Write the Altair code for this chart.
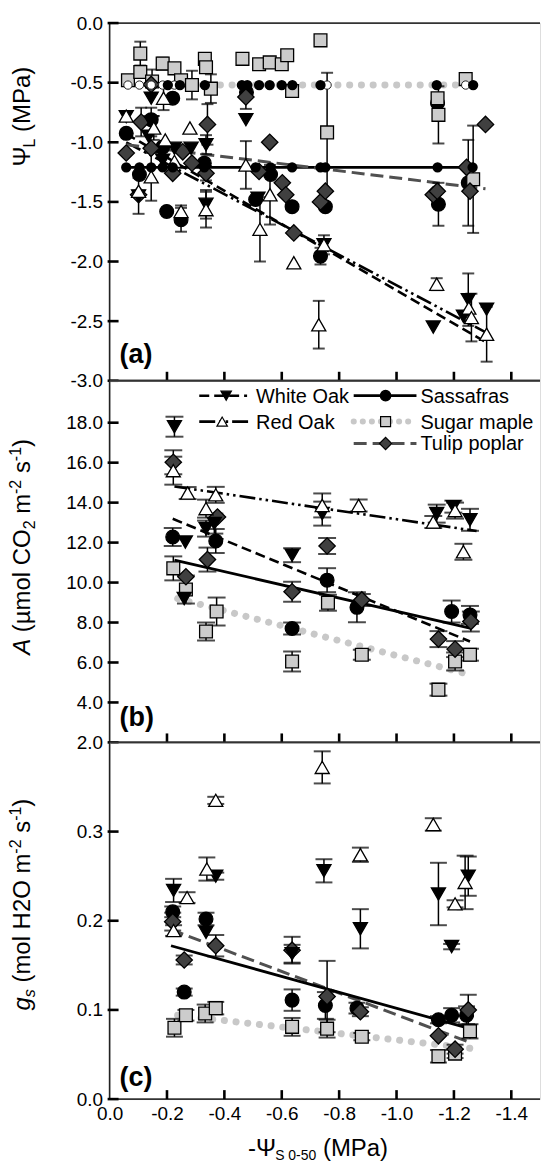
import altair as alt
import pandas as pd

FONT = "Liberation Sans"

# ------------------------------------------------------------------ shared x
X_DOMAIN = [0.0, -1.5]
X_TICKS = [0.0, -0.2, -0.4, -0.6, -0.8, -1.0, -1.2, -1.4]

# ------------------------------------------------------------------ panel (a)  Psi_L (MPa): (x, y, s.e.)
A_Y_DOMAIN = [-3.0, 0.0]
A_Y_TICKS = [0.0, -0.5, -1.0, -1.5, -2.0, -2.5, -3.0]
A_WHITE_OAK = [(-0.058, -0.785, 0), (-0.101, -1.45, 0.15), (-0.145, -0.63, 0), (-0.145, -0.83, 0.12),
               (-0.136, -0.95, 0), (-0.185, -1.15, 0), (-0.226, -1.05, 0), (-0.284, -1.05, 0),
               (-0.336, -1.02, 0.08), (-0.336, -1.52, 0.12), (-0.475, -0.81, 0), (-0.517, -1.47, 0),
               (-0.747, -1.86, 0), (-1.128, -2.55, 0), (-1.25, -2.32, 0.22), (-1.233, -2.46, 0),
               (-1.314, -2.40, 0)]
A_RED_OAK = [(-0.058, -0.78, 0), (-0.101, -1.41, 0), (-0.145, -1.29, 0.2), (-0.154, -0.88, 0.1),
             (-0.188, -0.63, 0.1), (-0.194, -0.98, 0), (-0.226, -1.16, 0), (-0.28, -0.88, 0),
             (-0.249, -1.58, 0.05), (-0.336, -1.565, 0.15), (-0.475, -1.19, 0.2), (-0.524, -1.73, 0.27),
             (-0.559, -1.44, 0.25), (-0.642, -2.01, 0), (-0.729, -2.53, 0.2), (-0.747, -1.86, 0.08),
             (-1.14, -2.19, 0.05), (-1.252, -2.39, 0), (-1.261, -2.47, 0.2), (-1.314, -2.61, 0.23)]
A_SASSAFRAS = [(-0.058, -0.925, 0), (-0.104, -1.27, 0), (-0.145, -0.81, 0), (-0.22, -0.63, 0),
               (-0.185, -1.04, 0), (-0.199, -1.58, 0), (-0.249, -1.65, 0.1), (-0.33, -1.175, 0),
               (-0.509, -1.48, 0), (-0.477, -0.58, 0), (-0.561, -1.27, 0), (-0.636, -1.54, 0),
               (-0.735, -1.955, 0.07), (-0.752, -1.54, 0), (-1.143, -0.67, 0), (-1.146, -1.52, 0.18),
               (-1.25, -1.34, 0.36)]
A_SUGAR_MAPLE = [(-0.064, -0.48, 0), (-0.107, -0.256, 0.1), (-0.107, -0.41, 0), (-0.148, -0.49, 0.1),
                 (-0.185, -0.34, 0.05), (-0.226, -0.38, 0), (-0.249, -0.48, 0), (-0.287, -0.52, 0.12),
                 (-0.332, -0.30, 0), (-0.336, -0.37, 0), (-0.353, -0.55, 0.12), (-0.463, -0.30, 0),
                 (-0.521, -0.345, 0), (-0.558, -0.33, 0), (-0.60, -0.345, 0), (-0.619, -0.27, 0),
                 (-0.636, -0.57, 0), (-0.735, -0.145, 0), (-0.758, -0.917, 0.5), (-1.143, -0.63, 0),
                 (-1.146, -0.77, 0.24), (-1.241, -0.47, 0), (-1.267, -1.31, 0.45)]
A_TULIP_POPLAR = [(-0.058, -1.09, 0), (-0.101, -1.44, 0), (-0.11, -0.83, 0.12), (-0.145, -1.05, 0),
                  (-0.145, -0.515, 0), (-0.22, -1.26, 0), (-0.255, -1.08, 0), (-0.287, -1.175, 0),
                  (-0.336, -1.26, 0.06), (-0.341, -0.85, 0.17), (-0.475, -0.62, 0.1), (-0.521, -1.245, 0),
                  (-0.558, -1.0, 0), (-0.602, -1.34, 0), (-0.614, -1.44, 0), (-0.642, -1.76, 0),
                  (-0.735, -1.50, 0), (-0.752, -1.41, 0), (-1.128, -1.44, 0), (-1.142, -1.41, 0),
                  (-1.244, -1.21, 0), (-1.256, -1.41, 0), (-1.31, -0.85, 0)]
A_FITS = {"White Oak": [(-0.058, -0.93), (-1.314, -2.68)],
          "Red Oak": [(-0.058, -1.0), (-1.331, -2.62)],
          "Sassafras": [(-0.058, -1.21), (-1.273, -1.21)],
          "Sugar maple": [(-0.058, -0.52), (-1.273, -0.52)],
          "Tulip poplar": [(-0.058, -1.02), (-1.31, -1.39)]}
A_SASS_FIT_DOTS_X = [-0.058, -0.104, -0.145, -0.185, -0.22, -0.33, -0.509, -0.561, -0.636,
                     -0.735, -0.752, -1.143, -1.265]
A_MAPLE_FIT_DOTS_OPEN_X = [-0.064, -0.104, -0.145, -0.185, -0.226, -0.758, -1.241]
A_MAPLE_FIT_DOTS_FILLED_X = [-0.203, -0.245, -0.332, -0.461, -0.48, -0.521, -0.558, -0.6,
                             -0.637, -0.735, -1.14, -1.267]

# ------------------------------------------------------------------ panel (b)  A (umol CO2 m-2 s-1)
B_Y_DOMAIN = [2.0, 20.1]
B_Y_TICKS = [2, 4, 6, 8, 10, 12, 14, 16, 18]
B_WHITE_OAK = [(-0.226, 17.8, 0.5), (-0.264, 12.03, 0), (-0.336, 12.7, 0.4), (-0.365, 12.95, 0.5),
               (-0.636, 11.37, 0.35), (-0.741, 13.45, 0.6), (-1.14, 13.45, 0.45), (-1.198, 13.8, 0.3),
               (-1.256, 13.14, 0.55), (-0.26, 9.2, 0)]
B_RED_OAK = [(-0.222, 15.6, 0.7), (-0.272, 14.48, 0.3), (-0.336, 13.7, 0.45), (-0.37, 14.39, 0.4),
             (-0.741, 13.86, 0.6), (-0.868, 13.86, 0.3), (-1.128, 13.03, 0.3), (-1.204, 13.6, 0.4),
             (-1.233, 11.54, 0.4)]
B_SASSAFRAS = [(-0.22, 12.28, 0.45), (-0.37, 12.08, 0.6), (-0.758, 10.12, 0.6), (-0.862, 8.76, 0.75),
               (-1.192, 8.55, 0.55), (-1.256, 8.38, 0.45), (-0.636, 7.7, 0.3)]
B_SUGAR_MAPLE = [(-0.222, 10.71, 0.6), (-0.266, 9.65, 0.7), (-0.336, 7.55, 0.45), (-0.373, 8.55, 0.7),
                 (-0.636, 6.05, 0.5), (-0.761, 8.99, 0.4), (-0.879, 6.39, 0.25), (-1.146, 4.64, 0.3),
                 (-1.204, 6.05, 0.45), (-1.256, 6.39, 0.3)]
B_TULIP_POPLAR = [(-0.222, 16.02, 0.6), (-0.266, 10.29, 0), (-0.341, 11.15, 0.6), (-0.376, 13.28, 0),
                  (-0.758, 11.83, 0.4), (-0.636, 9.54, 0.5), (-0.879, 9.13, 0.3), (-1.146, 7.17, 0.4),
                  (-1.204, 6.67, 0.4), (-1.259, 8.05, 0.5)]
B_FITS = {"White Oak": [(-0.22, 13.19), (-1.256, 7.05)],
          "Red Oak": [(-0.226, 14.81), (-1.279, 12.58)],
          "Sassafras": [(-0.226, 11.12), (-1.256, 7.72)],
          "Sugar maple": [(-0.237, 9.2), (-1.256, 5.39)]}

# ------------------------------------------------------------------ panel (c)  gs (mol H2O m-2 s-1)
C_Y_DOMAIN = [0.0, 0.4]
C_Y_TICKS = [0.0, 0.1, 0.2, 0.3]
C_WHITE_OAK = [(-0.223, 0.234, 0.013), (-0.37, 0.25, 0.004), (-0.747, 0.256, 0.013), (-0.874, 0.191, 0.022),
               (-1.146, 0.23, 0.035), (-1.192, 0.171, 0.003), (-1.25, 0.25, 0.022), (-0.636, 0.163, 0.01),
               (-0.336, 0.187, 0)]
C_RED_OAK = [(-0.741, 0.372, 0.018), (-0.37, 0.335, 0.004), (-1.128, 0.308, 0.007), (-0.874, 0.274, 0.008),
             (-0.339, 0.258, 0.013), (-0.27, 0.226, 0.006), (-0.223, 0.189, 0.006), (-1.204, 0.219, 0.004),
             (-1.239, 0.243, 0.03)]
C_SASSAFRAS = [(-0.22, 0.21, 0.006), (-0.336, 0.202, 0.007), (-0.26, 0.12, 0.004), (-0.636, 0.111, 0.012),
               (-0.752, 0.105, 0.015), (-0.862, 0.102, 0.006), (-1.146, 0.089, 0.004), (-1.192, 0.094, 0.008),
               (-1.244, 0.094, 0.01)]
C_SUGAR_MAPLE = [(-0.226, 0.08, 0.01), (-0.266, 0.094, 0.006), (-0.333, 0.096, 0.01), (-0.37, 0.102, 0.007),
                 (-0.636, 0.081, 0.01), (-0.758, 0.079, 0.01), (-0.879, 0.07, 0.004), (-1.146, 0.048, 0.007),
                 (-1.204, 0.051, 0.005), (-1.256, 0.076, 0.008)]
C_TULIP_POPLAR = [(-0.22, 0.199, 0.01), (-0.26, 0.156, 0.005), (-0.37, 0.172, 0.012), (-0.636, 0.167, 0.015),
                  (-0.758, 0.115, 0.04), (-0.874, 0.098, 0.005), (-1.146, 0.071, 0), (-1.204, 0.056, 0.005),
                  (-1.25, 0.1, 0.017)]
C_FITS = {"Tulip poplar": [(-0.214, 0.19), (-1.26, 0.063)],
          "Sassafras": [(-0.214, 0.172), (-1.256, 0.079)],
          "Sugar maple": [(-0.237, 0.094), (-1.256, 0.057)]}

# ------------------------------------------------------------------ styles
STYLE = {
    "White Oak": dict(shape="triangle-down", fill="#000000", size=200, lsize=110,
                      line="#000000", lw=2.6, dash=[10, 5], cap="butt"),
    "Red Oak": dict(shape="triangle-up", fill="#ffffff", size=200, lsize=110,
                    line="#000000", lw=2.6, dash=[16, 4, 2.5, 4, 2.5, 4], cap="butt"),
    "Sassafras": dict(shape="circle", fill="#000000", size=190, lsize=110,
                      line="#000000", lw=2.8, dash=None, cap="butt"),
    "Sugar maple": dict(shape="square", fill="#cccccc", size=165, lsize=100,
                        line="#c8c8c8", lw=7, dash=[0.1, 11.7], cap="round"),
    "Tulip poplar": dict(shape="diamond", fill="#404040", size=270, lsize=150,
                         line="#505050", lw=3, dash=[13, 6], cap="butt"),
}
DRAW_ORDER = ["Sassafras", "Sugar maple", "Tulip poplar", "White Oak", "Red Oak"]
WIDTH = 432
ONE = pd.DataFrame({"k": [0]})

CHAR_W = {' ': 278, '(': 333, ')': 333, 'µ': 576, 'm': 833, 'o': 556, 'l': 222, 'C': 722, 'O': 778,
          '2': 556, '-': 333, '1': 556, 's': 500, 'A': 667, 'M': 833, 'P': 667, 'a': 556, 'g': 556,
          'H': 722, 'L': 556, 'Ψ': 800, 'S': 667, '0': 556, '5': 556}


def text_width(t, size):
    return sum(CHAR_W.get(ch, 556) for ch in t) * size / 1000.0


def title_frags(frags, base, start, vertical):
    out = []
    pos = start
    for t, size, shift, style in frags:
        lead = len(t) - len(t.lstrip(" "))
        pos += (-1 if vertical else 1) * text_width(" " * lead, size)
        t = t.lstrip(" ")
        kw = dict(text=t, align="left", baseline="alphabetic", fontSize=size, font=FONT, color="black")
        if style:
            kw["fontStyle"] = style
        if vertical:
            kw["angle"] = 270
            enc = dict(x=alt.value(base + shift), y=alt.value(pos))
        else:
            enc = dict(x=alt.value(pos), y=alt.value(base + shift))
        out.append(alt.Chart(ONE).mark_text(**kw).encode(**enc))
        pos += (-1 if vertical else 1) * text_width(t, size)
    return out


NEG_FMT = "datum.value == 0 ? '0.0' : (datum.value < 0 ? '-' : '') + format(abs(datum.value), '.1f')"


def panel(series, fits, y_dom, y_ticks, H, label, label_y, cap_w, title, show_x, extra=()):
    xs = alt.Scale(domain=X_DOMAIN, nice=False, zero=False)
    ys = alt.Scale(domain=y_dom, nice=False, zero=False)
    ax_y = alt.Axis(values=y_ticks, labelExpr=NEG_FMT, ticks=False, domain=False, grid=False, title=None,
                    labelFontSize=19, labelFont=FONT, labelColor="black", labelPadding=7)
    if show_x:
        ax_x = alt.Axis(values=X_TICKS, labelExpr=NEG_FMT, ticks=False, domain=False, grid=False, title=None,
                        labelFontSize=19, labelFont=FONT, labelColor="black", labelPadding=5,
                        labelFlush=False)
    else:
        ax_x = None

    def X(f):
        return alt.X(f, type="quantitative", scale=xs, axis=ax_x)

    def Y(f):
        return alt.Y(f, type="quantitative", scale=ys, axis=ax_y)

    layers = []
    # borders and inward ticks
    layers.append(alt.Chart(ONE).mark_rule(color="#222222", strokeWidth=1.6).encode(
        x=alt.value(0), y=alt.value(0), y2=alt.value(H)))
    layers.append(alt.Chart(ONE).mark_rule(color="#333333", strokeWidth=1.8).encode(
        x=alt.value(0), x2=alt.value(WIDTH), y=alt.value(0)))
    layers.append(alt.Chart(ONE).mark_rule(color="#333333", strokeWidth=1.8).encode(
        x=alt.value(0), x2=alt.value(WIDTH), y=alt.value(H)))
    layers.append(alt.Chart(pd.DataFrame({"v": y_ticks})).mark_rule(color="black", strokeWidth=2.6).encode(
        y=Y("v"), x=alt.value(-2), x2=alt.value(9)))
    layers.append(alt.Chart(pd.DataFrame({"v": X_TICKS[1:]})).mark_rule(color="black", strokeWidth=2.6).encode(
        x=X("v"), y=alt.value(H - 9), y2=alt.value(H)))
    # fitted lines
    for sp, pts in fits.items():
        st = STYLE[sp]
        df = pd.DataFrame({"x": [p[0] for p in pts], "y": [p[1] for p in pts]})
        kw = dict(color=st["line"], strokeWidth=st["lw"], strokeCap=st["cap"])
        if st["dash"]:
            kw["strokeDash"] = st["dash"]
        layers.append(alt.Chart(df).mark_line(**kw).encode(x=X("x"), y=Y("y")))
    # error bars
    rows = []
    for sp, pts in series.items():
        for x, y, e in pts:
            if e > 0:
                rows.append({"x": x, "lo": y - e, "hi": y + e})
    eb = pd.DataFrame(rows)
    layers.append(alt.Chart(eb).mark_rule(color="black", strokeWidth=1.5).encode(
        x=X("x"), y=Y("lo"), y2=alt.Y2("hi")))
    layers.append(alt.Chart(eb).mark_tick(color="black", orient="horizontal", size=cap_w, thickness=2).encode(
        x=X("x"), y=Y("lo")))
    layers.append(alt.Chart(eb).mark_tick(color="black", orient="horizontal", size=cap_w, thickness=2).encode(
        x=X("x"), y=Y("hi")))
    # markers
    for sp in DRAW_ORDER:
        if sp not in series:
            continue
        st = STYLE[sp]
        df = pd.DataFrame({"x": [p[0] for p in series[sp]], "y": [p[1] for p in series[sp]]})
        layers.append(alt.Chart(df).mark_point(shape=st["shape"], filled=True, fill=st["fill"], stroke="black",
                                               strokeWidth=1.3, size=st["size"], opacity=1, fillOpacity=1,
                                               strokeOpacity=1).encode(x=X("x"), y=Y("y")))
    layers.extend(extra(X, Y) if callable(extra) else [])
    # panel letter
    layers.append(alt.Chart(ONE).mark_text(text=label, align="left", baseline="alphabetic", fontSize=27,
                                           fontWeight="bold", font=FONT, color="black").encode(
        x=alt.value(10), y=alt.value(label_y)))
    layers.extend(title)
    return alt.layer(*layers).properties(width=WIDTH, height=H)


# --------------------------------------------------------------- panel a extras (markers on fit lines + anchor)
def a_extra(X, Y):
    out = []
    ys = A_FITS["Sassafras"][0][1]
    ym = A_FITS["Sugar maple"][0][1]
    out.append(alt.Chart(pd.DataFrame({"x": A_SASS_FIT_DOTS_X, "y": [ys] * len(A_SASS_FIT_DOTS_X)}))
               .mark_point(shape="circle", filled=True, fill="black", stroke="black", size=70, opacity=1)
               .encode(x=X("x"), y=Y("y")))
    out.append(alt.Chart(pd.DataFrame({"x": A_MAPLE_FIT_DOTS_OPEN_X, "y": [ym] * len(A_MAPLE_FIT_DOTS_OPEN_X)}))
               .mark_point(shape="circle", filled=True, fill="white", stroke="#222222", strokeWidth=1,
                           size=70, opacity=1).encode(x=X("x"), y=Y("y")))
    out.append(alt.Chart(pd.DataFrame({"x": A_MAPLE_FIT_DOTS_FILLED_X, "y": [ym] * len(A_MAPLE_FIT_DOTS_FILLED_X)}))
               .mark_point(shape="circle", filled=True, fill="black", stroke="black", size=70, opacity=1)
               .encode(x=X("x"), y=Y("y")))
    # invisible layout anchor (fixes the plot origin at 110, 21)
    out.append(alt.Chart(ONE).mark_rule(strokeOpacity=0, opacity=0).encode(
        x=alt.value(-109.5), x2=alt.value(-108), y=alt.value(-20.5)))
    return out


# --------------------------------------------------------------- panel b legend
LEGEND_ITEMS = [("White Oak", 90, 138, 117, 147, 15), ("Red Oak", 90, 143, 113, 147, 41),
                ("Sassafras", 245, 308, 277, 312, 15), ("Sugar maple", 245, 308, 277, 312, 41),
                ("Tulip poplar", 245, 308, 277, 312, 63)]


def b_extra(X, Y):
    out = []
    for name, x1, x2, xm, xt, yy in LEGEND_ITEMS:
        st = STYLE[name]
        kw = dict(color=st["line"], strokeWidth=min(st["lw"], 6), strokeCap=st["cap"])
        if st["dash"]:
            kw["strokeDash"] = st["dash"] if name != "Sugar maple" else [0.1, 9]
        out.append(alt.Chart(ONE).mark_rule(**kw).encode(x=alt.value(x1), x2=alt.value(x2), y=alt.value(yy)))
        out.append(alt.Chart(ONE).mark_point(shape=st["shape"], filled=True, fill=st["fill"], stroke="black",
                                             strokeWidth=1.2, size=st["lsize"], opacity=1)
                   .encode(x=alt.value(xm), y=alt.value(yy)))
        out.append(alt.Chart(ONE).mark_text(text=name, align="left", baseline="middle", fontSize=20, font=FONT,
                                            color="black").encode(x=alt.value(xt), y=alt.value(yy + 1)))
    return out


TB = -80  # baseline x of rotated y titles (relative to plot left)
title_a = title_frags([("Ψ", 24, 0, None), ("L", 16, 5, None), (" (MPa)", 24, 0, None)], TB, 144, True)
title_b = title_frags([("A", 24, 0, "italic"), (" (µmol CO", 24, 0, None), ("2", 16, 5, None),
                       (" m", 24, 0, None), ("-2", 16, -9, None), (" s", 24, 0, None),
                       ("-1", 16, -9, None), (")", 24, 0, None)], TB, 275, True)
title_c = title_frags([("g", 24, 0, "italic"), ("s", 16, 5, "italic"), (" (mol H2O m", 24, 0, None),
                       ("-2", 16, -9, None), (" s", 24, 0, None), ("-1", 16, -9, None),
                       (")", 24, 0, None)], TB, 269, True)
H_A, H_B, H_C = 359, 363, 358
xtitle = title_frags([("-Ψ", 24, 0, None), ("S 0-50", 14, 4, None), (" (MPa)", 24, 0, None)],
                     H_C + 57, 139, False)

pa = panel({"White Oak": A_WHITE_OAK, "Red Oak": A_RED_OAK, "Sassafras": A_SASSAFRAS,
            "Sugar maple": A_SUGAR_MAPLE, "Tulip poplar": A_TULIP_POPLAR},
           A_FITS, A_Y_DOMAIN, A_Y_TICKS, H_A, "(a)", H_A - 18, 12, title_a, False, a_extra)
pb = panel({"White Oak": B_WHITE_OAK, "Red Oak": B_RED_OAK, "Sassafras": B_SASSAFRAS,
            "Sugar maple": B_SUGAR_MAPLE, "Tulip poplar": B_TULIP_POPLAR},
           B_FITS, B_Y_DOMAIN, B_Y_TICKS, H_B, "(b)", H_B - 16, 18, title_b, False, b_extra)
pc = panel({"White Oak": C_WHITE_OAK, "Red Oak": C_RED_OAK, "Sassafras": C_SASSAFRAS,
            "Sugar maple": C_SUGAR_MAPLE, "Tulip poplar": C_TULIP_POPLAR},
           C_FITS, C_Y_DOMAIN, C_Y_TICKS, H_C, "(c)", H_C - 13, 17, title_c + xtitle, True)

chart = alt.vconcat(pa, pb, pc, spacing=0, bounds="flush").properties(
    padding={"left": 0, "top": 0, "right": 0, "bottom": 0}
).configure_view(strokeWidth=0).configure(font=FONT)

chart.save("out.html", embed_options={"renderer": "svg", "actions": False})
